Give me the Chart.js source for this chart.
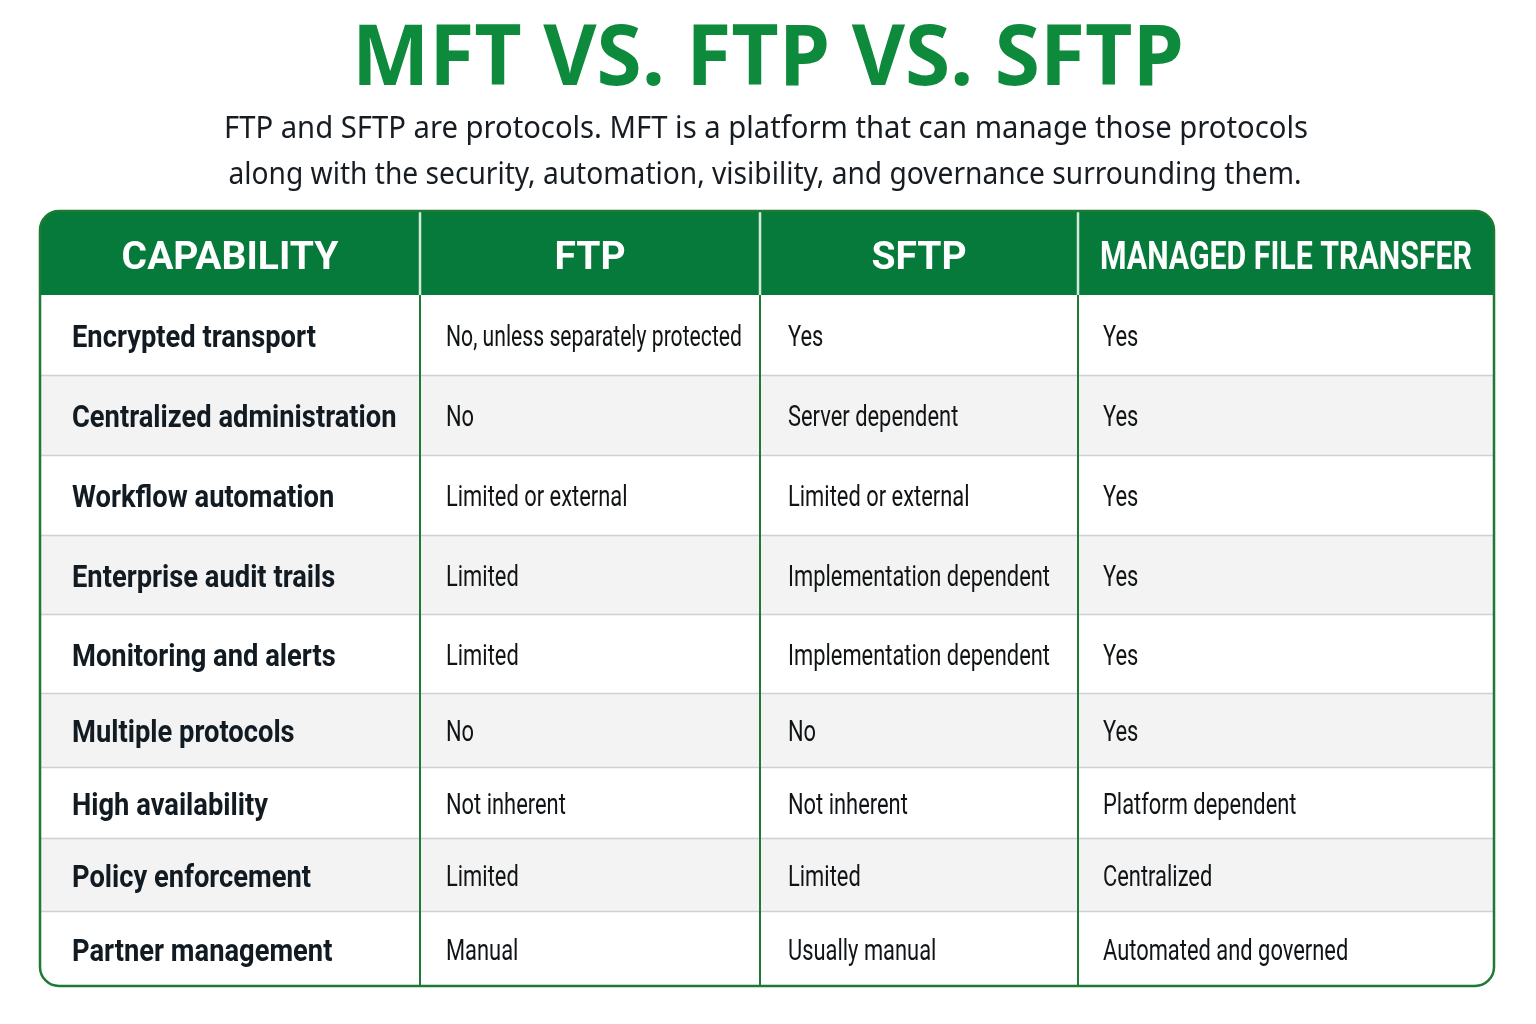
<!DOCTYPE html>
<html>
<head>
<meta charset="utf-8">
<script src="https://cdn.jsdelivr.net/npm/chart.js@4.4.1/dist/chart.umd.min.js"></script>
<style>
html,body{margin:0;padding:0;background:#ffffff;}
canvas{display:block;}
</style>
</head>
<body>
<canvas id="c" width="1536" height="1024"></canvas>
<script>
// ---- data ----
const titleText = 'MFT VS. FTP VS. SFTP';
const subtitleLines = [
  'FTP and SFTP are protocols. MFT is a platform that can manage those protocols',
  'along with the security, automation, visibility, and governance surrounding them.'
];
const columns = ['CAPABILITY', 'FTP', 'SFTP', 'MANAGED FILE TRANSFER'];
const capabilities = [
  'Encrypted transport', 'Centralized administration', 'Workflow automation',
  'Enterprise audit trails', 'Monitoring and alerts', 'Multiple protocols',
  'High availability', 'Policy enforcement', 'Partner management'
];
const ftpValues = [
  'No, unless separately protected', 'No', 'Limited or external', 'Limited',
  'Limited', 'No', 'Not inherent', 'Limited', 'Manual'
];
const sftpValues = [
  'Yes', 'Server dependent', 'Limited or external', 'Implementation dependent',
  'Implementation dependent', 'No', 'Not inherent', 'Limited', 'Usually manual'
];
const mftValues = [
  'Yes', 'Yes', 'Yes', 'Yes', 'Yes', 'Yes',
  'Platform dependent', 'Centralized', 'Automated and governed'
];

// ---- layout (relative weights on the chart's scales) ----
const COL_WEIGHTS = [380, 340, 318, 416];
const ROW_WEIGHTS = [84, 80, 80, 80, 79, 79, 74, 71, 73, 75]; // header + rows
const TOTAL_W = COL_WEIGHTS.reduce((a, b) => a + b, 0);
const TOTAL_H = ROW_WEIGHTS.reduce((a, b) => a + b, 0);
const colEdges = [0]; COL_WEIGHTS.forEach(w => colEdges.push(colEdges[colEdges.length - 1] + w));
const rowEdges = [0]; ROW_WEIGHTS.forEach(h => rowEdges.push(rowEdges[rowEdges.length - 1] + h));

const tableCols = [capabilities, ftpValues, sftpValues, mftValues];

const GREEN_HEAD = '#067a3a';
const GREEN_TITLE = '#0e8a3c';
const GREEN_LINE = '#1c7a32';
const ROW_ALT = '#f3f3f3';
const ROW_LINE = '#cdd0d6';
const TEXT_DARK = '#121a22';

// text-width calibration (condensed look)
const LABEL_FONT = '700 32px Roboto, sans-serif';
const BODY_FONT = '400 29px Roboto, sans-serif';
const LABEL_CAL = [['Encrypted transport', 247], ['Centralized administration', 312], ['Workflow automation', 269], ['Partner management', 263]];
const BODY_CAL = [['No, unless separately protected', 294], ['Limited or external', 188], ['Server dependent', 179], ['Implementation dependent', 259]];

function roundRectPath(ctx, x, y, w, h, r) {
  ctx.beginPath();
  ctx.moveTo(x + r, y);
  ctx.lineTo(x + w - r, y);
  ctx.arcTo(x + w, y, x + w, y + r, r);
  ctx.lineTo(x + w, y + h - r);
  ctx.arcTo(x + w, y + h, x + w - r, y + h, r);
  ctx.lineTo(x + r, y + h);
  ctx.arcTo(x, y + h, x, y + h - r, r);
  ctx.lineTo(x, y + r);
  ctx.arcTo(x, y, x + r, y, r);
  ctx.closePath();
}

function condensedText(ctx, text, x, y, sx, maxW) {
  ctx.save();
  ctx.translate(x, y);
  ctx.scale(sx, 1);
  ctx.fillText(text, 0, 0, maxW / sx);
  ctx.restore();
}

function calScale(ctx, font, cal) {
  ctx.font = font;
  let m = 0, t = 0;
  cal.forEach(([s, w]) => { m += ctx.measureText(s).width; t += w; });
  return t / m;
}

const tablePlugin = {
  id: 'tablePlugin',
  beforeDatasetsDraw(chart) {
    const ctx = chart.ctx;
    const xs = chart.scales.x, ys = chart.scales.y;
    const X = v => xs.getPixelForValue(v);
    const Y = v => ys.getPixelForValue(v);
    const left = X(0), right = X(TOTAL_W), top = Y(0), bottom = Y(TOTAL_H);
    const R = 19;

    ctx.save();
    // Title
    ctx.fillStyle = GREEN_TITLE;
    ctx.textAlign = 'center';
    ctx.textBaseline = 'alphabetic';
    ctx.font = '700 84px "Open Sans", Roboto, sans-serif';
    ctx.fillText(titleText, 768, 85, 832);
    // Subtitle
    ctx.fillStyle = '#161c22';
    ctx.font = '400 31px "Noto Sans", Roboto, sans-serif';
    ctx.fillText(subtitleLines[0], 766, 138, 1084);
    ctx.fillText(subtitleLines[1], 765, 184, 1073);
    ctx.restore();

    // Table body
    ctx.save();
    roundRectPath(ctx, left, top, right - left, bottom - top, R);
    ctx.clip();
    ctx.fillStyle = '#ffffff';
    ctx.fillRect(left, top, right - left, bottom - top);
    for (let r = 1; r < ROW_WEIGHTS.length; r++) {
      if (r % 2 === 0) {
        ctx.fillStyle = ROW_ALT;
        ctx.fillRect(left, Y(rowEdges[r]), right - left, Y(rowEdges[r + 1]) - Y(rowEdges[r]));
      }
    }
    // header
    ctx.fillStyle = GREEN_HEAD;
    ctx.fillRect(left, top, right - left, Y(rowEdges[1]) - top);
    // row lines
    ctx.strokeStyle = ROW_LINE;
    ctx.lineWidth = 1.5;
    for (let r = 2; r < ROW_WEIGHTS.length; r++) {
      const y = Math.round(Y(rowEdges[r])) + 0.5;
      ctx.beginPath(); ctx.moveTo(left, y); ctx.lineTo(right, y); ctx.stroke();
    }
    // column lines
    for (let c = 1; c < COL_WEIGHTS.length; c++) {
      const x = Math.round(X(colEdges[c]));
      ctx.strokeStyle = 'rgba(235,245,238,0.9)';
      ctx.lineWidth = 2.5;
      ctx.beginPath(); ctx.moveTo(x, top); ctx.lineTo(x, Y(rowEdges[1])); ctx.stroke();
      ctx.strokeStyle = GREEN_LINE;
      ctx.lineWidth = 2;
      ctx.beginPath(); ctx.moveTo(x, Y(rowEdges[1])); ctx.lineTo(x, bottom); ctx.stroke();
    }
    ctx.restore();

    // outer border
    ctx.save();
    ctx.strokeStyle = GREEN_LINE;
    ctx.lineWidth = 2.5;
    roundRectPath(ctx, left, top, right - left, bottom - top, R);
    ctx.stroke();
    ctx.restore();

    // header text
    ctx.save();
    ctx.fillStyle = '#ffffff';
    ctx.textAlign = 'center';
    ctx.textBaseline = 'alphabetic';
    ctx.font = '700 39px Roboto, sans-serif';
    const hy = (Y(rowEdges[0]) + Y(rowEdges[1])) / 2 + 16;
    columns.forEach((t, c) => {
      const cx = (X(colEdges[c]) + X(colEdges[c + 1])) / 2;
      const w = X(colEdges[c + 1]) - X(colEdges[c]) - 44;
      ctx.fillText(t, cx, hy, w);
    });
    ctx.restore();

    // body text
    ctx.save();
    ctx.textAlign = 'left';
    ctx.textBaseline = 'alphabetic';
    const labelSX = calScale(ctx, LABEL_FONT, LABEL_CAL);
    const bodySX = calScale(ctx, BODY_FONT, BODY_CAL);
    const padL = [32, 26, 28, 25];
    tableCols.forEach((arr, c) => {
      ctx.font = c === 0 ? LABEL_FONT : BODY_FONT;
      ctx.fillStyle = c === 0 ? TEXT_DARK : '#111416';
      const sx = c === 0 ? labelSX : bodySX;
      const off = c === 0 ? 12 : 11;
      const maxW = X(colEdges[c + 1]) - X(colEdges[c]) - padL[c] - 18;
      arr.forEach((t, r) => {
        const cy = (Y(rowEdges[r + 1]) + Y(rowEdges[r + 2])) / 2 + off;
        condensedText(ctx, t, X(colEdges[c]) + padL[c], cy, sx, maxW);
      });
    });
    ctx.restore();
  }
};

const datasets = columns.map((name, c) => ({
  label: name,
  data: tableCols[c].map((v, r) => ({
    x: (colEdges[c] + colEdges[c + 1]) / 2,
    y: (rowEdges[r + 1] + rowEdges[r + 2]) / 2
  })),
  pointRadius: 0,
  pointHoverRadius: 0
}));

new Chart(document.getElementById('c'), {
  type: 'scatter',
  data: { datasets },
  options: {
    responsive: false,
    animation: false,
    devicePixelRatio: 1,
    events: [],
    layout: { padding: { left: 40, right: 42, top: 211, bottom: 38 } },
    plugins: { legend: { display: false }, tooltip: { enabled: false }, title: { display: false } },
    scales: {
      x: { type: 'linear', display: false, min: 0, max: TOTAL_W },
      y: { type: 'linear', display: false, min: 0, max: TOTAL_H, reverse: true }
    }
  },
  plugins: [tablePlugin]
});
</script>
</body>
</html>
